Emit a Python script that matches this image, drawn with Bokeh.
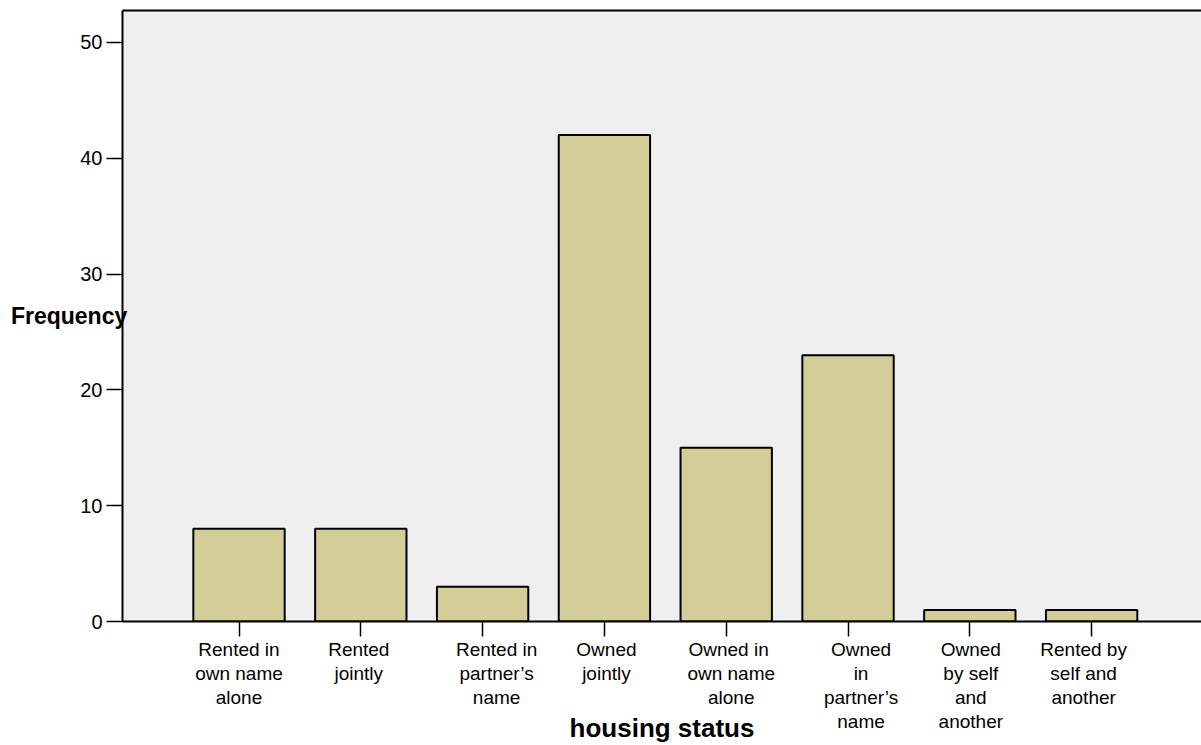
from bokeh.plotting import figure
from bokeh.models import (Range1d, FixedTicker, LinearAxis, Label, ColumnDataSource)
from bokeh.embed import file_html
from bokeh.resources import INLINE

# ---- data ----
categories = [
    "Rented in\nown name\nalone",
    "Rented\njointly",
    "Rented in\npartner\u2019s\nname",
    "Owned\njointly",
    "Owned  in\nown name\nalone",
    "Owned\nin\npartner\u2019s\nname",
    "Owned\nby self\nand\nanother",
    "Rented by\nself and\nanother",
]
frequency = [8, 8, 3, 42, 15, 23, 1, 1]
y_ticks = [0, 10, 20, 30, 40, 50]
x_title = "housing status"
y_title = "Frequency"

# ---- layout only: horizontal nudge (px) of each category label block ----
label_shift_px = [0, -2, 14, 2, 5, 13, 1, -8]
PX_PER_UNIT = 121.8

xs = list(range(len(categories)))
label_pos = [x + s / PX_PER_UNIT for x, s in zip(xs, label_shift_px)]
FONT = "Liberation Sans"

p = figure(width=1201, height=745, output_backend="svg", toolbar_location=None,
           x_range=Range1d(-0.9565, 7.902), y_range=Range1d(0, 52.76),
           min_border_left=122, min_border_right=0, min_border_top=10,
           min_border_bottom=124,
           background_fill_color="#EFEFEF", border_fill_color="white",
           outline_line_color=None)
p.grid.visible = False

src = ColumnDataSource(dict(x=xs, top=frequency))
p.vbar(x="x", top="top", width=0.75, source=src,
       fill_color="#D3CD98", line_color="black", line_width=2)

# y axis
ya = p.yaxis[0]
ya.ticker = FixedTicker(ticks=y_ticks)
ya.major_tick_out = 16
ya.major_tick_in = 0
ya.minor_tick_out = 0
ya.minor_tick_in = 0
ya.major_tick_line_width = 1.5
ya.axis_line_width = 2
ya.axis_line_color = "black"
ya.major_tick_line_color = "black"
ya.major_label_standoff = 4
ya.major_label_text_font = FONT
ya.major_label_text_font_size = "20px"
ya.major_label_text_color = "black"

if "axis_label_orientation" in ya.properties():
    ya.axis_label = y_title
    ya.axis_label_orientation = "horizontal"
    ya.axis_label_standoff = -50
    ya.axis_label_text_font = FONT
    ya.axis_label_text_font_style = "bold"
    ya.axis_label_text_font_size = "23px"
    ya.axis_label_text_color = "black"
else:
    p.add_layout(Label(x=-1.868, y=25.2, y_offset=8, text=y_title, text_font=FONT,
                       text_font_style="bold", text_font_size="22px",
                       text_align="left", text_baseline="alphabetic",
                       text_color="black"), "below")

# x axis: line and tick marks only
xa = p.xaxis[0]
xa.ticker = FixedTicker(ticks=xs)
xa.major_tick_out = 15
xa.major_tick_in = 0
xa.minor_tick_out = 0
xa.minor_tick_in = 0
xa.major_tick_line_width = 1.5
xa.axis_line_width = 2
xa.axis_line_color = "black"
xa.major_tick_line_color = "black"
xa.major_label_standoff = 0
xa.major_label_text_font_size = "0px"
xa.major_label_text_color = None

# second x axis below it: category labels and title
xa2 = LinearAxis(ticker=FixedTicker(ticks=label_pos),
                 major_label_overrides={pos: txt for pos, txt in zip(label_pos, categories)},
                 axis_line_color=None, major_tick_line_color=None,
                 minor_tick_line_color=None, major_tick_out=0, major_tick_in=0,
                 minor_tick_out=0, minor_tick_in=0, major_label_standoff=2,
                 major_label_text_font=FONT, major_label_text_font_size="19px",
                 major_label_text_color="black", major_label_text_line_height=1.15,
                 major_label_text_align="left",
                 axis_label=x_title, axis_label_standoff=-22,
                 axis_label_text_font=FONT, axis_label_text_font_style="bold",
                 axis_label_text_font_size="26px", axis_label_text_color="black")
p.add_layout(xa2, "below")

# top border line
top_axis = LinearAxis(ticker=FixedTicker(ticks=[]), major_tick_out=0, major_tick_in=0,
                      minor_tick_out=0, minor_tick_in=0, major_label_standoff=0,
                      major_label_text_font_size="0px", axis_line_width=2,
                      axis_line_color="black")
p.add_layout(top_axis, "above")

open("out.html", "w").write(file_html(p, INLINE))
